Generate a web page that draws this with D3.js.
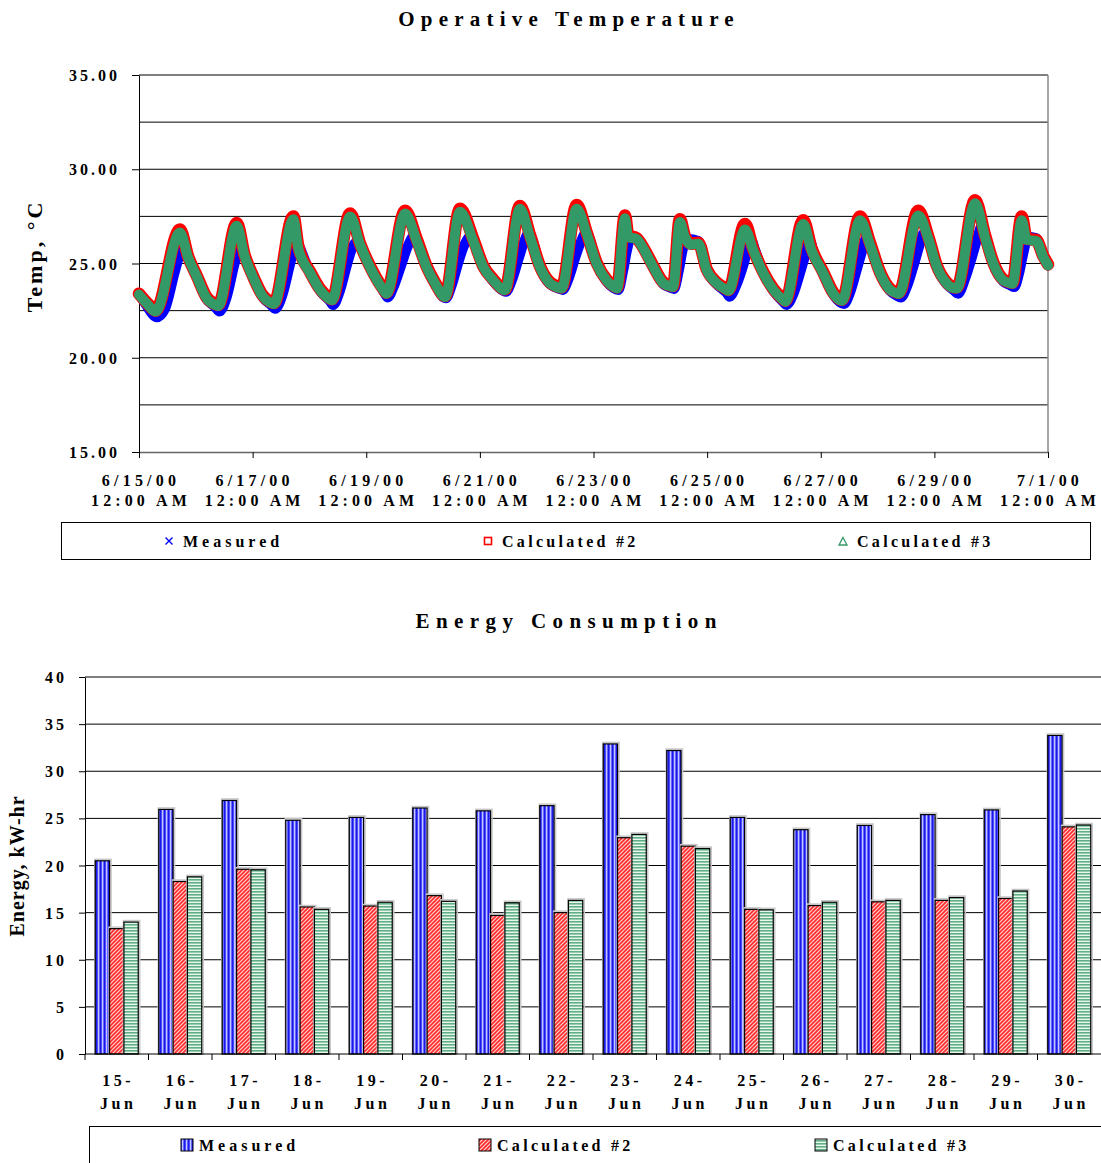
<!DOCTYPE html>
<html><head><meta charset="utf-8">
<script src="https://cdn.jsdelivr.net/npm/d3@7"></script>
<style>
body{margin:0;background:#fff;}
svg{display:block;font-family:"Liberation Serif","Times New Roman",serif;font-weight:bold;}
</style></head><body>
<svg id="c" width="1101" height="1163"></svg>
<script>
// ---------------- Operative temperature data (hours from 6/15/00 12:00 AM) ----------------
const measuredHours = [0,3,7.5,11,15,17.5,19,20.8,24.4,28.6,32.1,
 34,37,40,42,43.3,44.6,48.1,52.3,55.8,
 57.5,60.5,63.5,65.5,66.8,67.8,72.3,76.5,80.7,
 82,85,88,90,91.5,93.4,97.6,103.2,
 105,108,111,113.5,116.5,117.8,121.5,125.7,128.6,
 129.6,132,135,137.5,139.8,141.2,145.5,149.7,153.9,
 155,157.5,160.5,162.8,164.5,165.8,169.4,173.6,177.8,
 179,181.5,184.5,186.8,188.6,189.8,193.3,197.5,200.4,
 202.5,204.5,206.3,208,210.5,213,217.3,221.5,225,
 226,228,229.8,231.8,236.3,239.8,244,248.2,
 249.5,252.5,255.5,257.5,258.8,260.3,263.7,268,272.2,
 273.5,276.5,279.5,281.8,283.3,284.8,289,293.3,296.1,
 297.8,300.5,303.5,305.8,307.3,308.8,313,317.3,320.1,
 321.8,324.5,327.5,329.8,331.5,333.5,337,341.2,344,
 346,349,352,354.3,356,357.8,360.9,365.1,368,
 369.8,371.8,373.5,375.5,379,382,384];
const measuredTemps = [23.4,22.8,22.15,22.6,24.5,25.6,26.0,25.3,24.3,23.1,22.7,
 22.45,23.2,24.8,25.8,26.1,25.4,24.3,23.2,22.8,
 22.6,23.3,24.8,25.8,26.2,25.9,24.5,23.55,23.0,
 22.8,23.6,25.0,25.8,26.1,25.95,24.8,23.55,
 23.2,23.9,25.0,25.9,26.5,26.2,24.8,23.75,23.2,
 23.15,23.8,25.1,26.0,26.4,26.2,24.8,24.05,23.55,
 23.5,24.1,25.3,26.2,26.6,26.4,24.8,23.9,23.65,
 23.6,24.2,25.4,26.2,26.6,26.5,25.0,24.05,23.7,
 23.6,24.6,25.8,26.4,26.35,25.85,24.8,23.9,23.7,
 23.65,24.6,25.8,26.3,26.2,24.65,23.9,23.45,
 23.24,23.9,25.0,25.9,26.2,25.7,24.5,23.55,22.95,
 22.8,23.4,24.6,25.6,26.25,25.7,24.45,23.35,22.95,
 22.85,23.5,24.8,25.8,26.4,26.0,24.5,23.55,23.3,
 23.2,23.8,25.0,26.0,26.6,26.3,24.8,23.9,23.6,
 23.4,24.2,25.4,26.4,27.0,26.4,24.95,24.05,23.85,
 23.75,24.5,25.5,26.4,26.35,25.4,24.9];

const calcHours = [0,3.5,7,17.3,20.8,24.4,28.6,32.1,
 33.5,41.3,44.6,48.1,52.3,55.8,
 57,65.2,67.3,72.3,76.5,80.7,
 81.5,89.2,93.4,97.6,103.2,
 104.5,112.4,117.3,121.5,125.7,128.6,
 129.3,135.6,141.2,145.5,149.7,153.9,
 154.6,160.9,165.2,169.4,173.6,177.8,
 178.5,184.9,189.1,193.3,197.5,200.4,
 202,205.3,206.7,210.2,213,217.3,221.5,225,
 225.6,228.5,230.6,233,236.3,239.8,244,248.2,
 249,256,259.5,263.7,268,272.2,
 273,280.6,284.1,289,293.3,296.1,
 297,304.6,308.8,313,317.3,320.1,
 321,329.2,333.5,337,341.2,344,
 345.5,353.2,357.4,360.9,365.1,368,
 369,372.9,375,379,382,384];
const calc2Temps = [23.4,22.9,22.5,26.8,25.35,24.35,23.2,22.85,
 22.8,27.15,25.45,24.35,23.3,22.95,
 22.9,27.5,25.9,24.55,23.65,23.15,
 23.1,27.65,26.05,24.85,23.65,
 23.45,27.8,26.3,24.85,23.85,23.3,
 23.27,27.9,26.3,24.85,24.15,23.65,
 23.63,28.05,26.5,24.85,24.0,23.75,
 23.73,28.1,26.65,25.05,24.15,23.82,
 23.73,27.55,26.5,26.35,25.85,24.85,24.0,23.82,
 23.8,27.35,26.45,26.05,26.1,24.7,24.0,23.65,
 23.6,27.1,25.75,24.55,23.65,23.1,
 23.02,27.3,25.8,24.55,23.45,23.1,
 23.08,27.5,26.1,24.55,23.65,23.47,
 23.45,27.8,26.4,24.9,24.0,23.75,
 23.73,28.35,26.5,25.05,24.15,24.0,
 23.98,27.5,26.3,26.25,25.4,24.95];
const calc3Temps = [23.35,22.85,22.45,26.65,25.3,24.3,23.15,22.8,
 22.75,27.0,25.4,24.3,23.25,22.9,
 22.85,27.35,25.8,24.5,23.6,23.1,
 23.05,27.5,26.0,24.8,23.6,
 23.4,27.65,26.2,24.8,23.8,23.25,
 23.22,27.75,26.2,24.8,24.1,23.6,
 23.58,27.9,26.4,24.8,23.95,23.7,
 23.68,27.9,26.6,25.0,24.1,23.77,
 23.68,27.4,26.4,26.3,25.8,24.8,23.95,23.77,
 23.75,27.2,26.4,26.0,26.05,24.65,23.95,23.6,
 23.55,26.8,25.7,24.5,23.6,23.05,
 22.97,27.1,25.7,24.5,23.4,23.05,
 23.03,27.3,26.0,24.5,23.6,23.42,
 23.4,27.55,26.3,24.85,23.95,23.7,
 23.68,28.2,26.4,25.0,24.1,23.95,
 23.93,27.3,26.25,26.2,25.35,24.9];

const tempTicks = [15,20,25,30,35];
const tempGrid = [17.5,20,22.5,25,27.5,30,32.5,35];
const dateTickDays = [0,2,4,6,8,10,12,14,16];
const dateTickLabels = ["6/15/00","6/17/00","6/19/00","6/21/00","6/23/00","6/25/00","6/27/00","6/29/00","7/1/00"];
const timeTickLabel = "12:00 AM";
const tempSeriesNames = ["Measured","Calculated #2","Calculated #3"];

// ---------------- Energy consumption data ----------------
const days = ["15-Jun","16-Jun","17-Jun","18-Jun","19-Jun","20-Jun","21-Jun","22-Jun","23-Jun","24-Jun","25-Jun","26-Jun","27-Jun","28-Jun","29-Jun","30-Jun"];
const energyMeasured = [20.5,25.95,26.9,24.8,25.1,26.1,25.8,26.35,32.9,32.2,25.1,23.8,24.25,25.4,25.9,33.8];
const energyCalc2 =    [13.3,18.3,19.6,15.6,15.7,16.8,14.7,15.0,22.95,22.05,15.35,15.75,16.15,16.3,16.5,24.1];
const energyCalc3 =    [14.0,18.8,19.55,15.35,16.1,16.2,16.05,16.3,23.3,21.8,15.3,16.1,16.3,16.6,17.3,24.3];
const energyTicks = [0,5,10,15,20,25,30,35,40];
const energySeriesNames = ["Measured","Calculated #2","Calculated #3"];

// ---------------- drawing ----------------
const svg = d3.select("#c");
const FS = 16, LS = 3;

// patterns
const defs = svg.append("defs");
const pm = defs.append("pattern").attr("id","pMeas").attr("patternUnits","userSpaceOnUse").attr("width",4).attr("height",4);
pm.append("rect").attr("width",4).attr("height",4).attr("fill","#4d4dff");
pm.append("rect").attr("x",0).attr("width",1).attr("height",4).attr("fill","#1a1ae6");
pm.append("rect").attr("x",2).attr("width",1.2).attr("height",4).attr("fill","#c4c4ff");
const pc2 = defs.append("pattern").attr("id","pCalc2").attr("patternUnits","userSpaceOnUse").attr("width",4).attr("height",4);
pc2.append("rect").attr("width",4).attr("height",4).attr("fill","#ffd0d0");
pc2.append("path").attr("d","M0,4 L4,0 M-1,1 L1,-1 M3,5 L5,3").attr("stroke","#ff2a2a").attr("stroke-width",1.6);
const pc3 = defs.append("pattern").attr("id","pCalc3").attr("patternUnits","userSpaceOnUse").attr("width",4).attr("height",3);
pc3.append("rect").attr("width",4).attr("height",3).attr("fill","#eaf5ee");
pc3.append("rect").attr("y",0).attr("width",4).attr("height",1.6).attr("fill","#5fb086");

function txt(g, x, y, s, opts={}) {
  return g.append("text").attr("x",x).attr("y",y).text(s)
    .attr("font-size",opts.fs||FS).attr("letter-spacing",opts.ls===undefined?LS:opts.ls)
    .attr("text-anchor",opts.anchor||"middle").attr("fill","#000");
}

// ===== Top chart =====
const topG = svg.append("g");
const t0 = Date.UTC(2000,5,15);
const toDate = h => new Date(t0 + h*3600000);
const xT = d3.scaleUtc().domain([toDate(0), toDate(384)]).range([139,1048]);
const yT = d3.scaleLinear().domain([15,35]).range([452,75]);

txt(topG, 566+3.1, 26, "Operative Temperature", {fs:21, ls:6.2});

topG.selectAll("line.grid").data(tempGrid).join("line").attr("class","grid")
  .attr("x1",139).attr("x2",1048).attr("y1",d=>yT(d)).attr("y2",d=>yT(d))
  .attr("stroke","#000").attr("stroke-width",1);
topG.append("line").attr("x1",1048).attr("x2",1048).attr("y1",75).attr("y2",452).attr("stroke","#888").attr("stroke-width",1.5);

const yAxT = topG.append("g").attr("transform","translate(139,0)")
  .call(d3.axisLeft(yT).tickValues(tempTicks).tickSize(7).tickSizeOuter(0).tickFormat(""));
yAxT.select(".domain").attr("stroke","#000");
topG.selectAll("text.ytl").data(tempTicks).join("text").attr("class","ytl")
  .attr("x",120).attr("y",d=>yT(d)+6).text(d=>d.toFixed(2))
  .attr("font-size",FS).attr("letter-spacing",LS).attr("text-anchor","end");

const dateTicks = dateTickDays.map(d=>toDate(d*24));
const xAxT = topG.append("g").attr("transform","translate(0,452)")
  .call(d3.axisBottom(xT).tickValues(dateTicks).tickSize(6).tickSizeOuter(0).tickFormat(""));
xAxT.select(".domain").attr("stroke","#666").attr("stroke-width",1.6);
dateTicks.forEach((d,i)=>{
  txt(topG, xT(d)+2, 486, dateTickLabels[i], {ls:4.2});
  txt(topG, xT(d)+2, 506, timeTickLabel, {ls:4.1});
});

topG.append("text").attr("transform","translate(42,256) rotate(-90)").attr("text-anchor","middle")
  .attr("font-size",22).attr("letter-spacing",3).text("Temp, °C");

const lineM = d3.line().x((d,i)=>xT(toDate(measuredHours[i]))).y(d=>yT(d)).curve(d3.curveMonotoneX);
const lineC = d3.line().x((d,i)=>xT(toDate(calcHours[i]))).y(d=>yT(d)).curve(d3.curveMonotoneX);
const series = topG.append("g").attr("fill","none").attr("stroke-linejoin","round").attr("stroke-linecap","round");
series.append("path").attr("d",lineM(measuredTemps)).attr("stroke","#0000ff").attr("stroke-width",10);
series.append("path").attr("d",lineC(calc2Temps)).attr("stroke","#ff0000").attr("stroke-width",12.5);
series.append("path").attr("d",lineC(calc3Temps)).attr("stroke","#339966").attr("stroke-width",10);

// top legend
const lg1 = topG.append("g");
lg1.append("rect").attr("x",61.5).attr("y",522.5).attr("width",1029).attr("height",37).attr("fill","none").attr("stroke","#000");
const lx1 = [169,488,843];
lg1.append("path").attr("d",`M${lx1[0]-3.5},${537.5}l7,7M${lx1[0]+3.5},${537.5}l-7,7`).attr("stroke","#0000ff").attr("stroke-width",1.4);
lg1.append("rect").attr("x",lx1[1]-3.5).attr("y",537.5).attr("width",7).attr("height",7).attr("fill","none").attr("stroke","#ff0000").attr("stroke-width",1.6);
lg1.append("path").attr("d",`M${lx1[2]},${537.5}L${lx1[2]+4},${545}L${lx1[2]-4},${545}Z`).attr("fill","none").attr("stroke","#339966").attr("stroke-width",1.3);
tempSeriesNames.forEach((n,i)=>txt(lg1, lx1[i]+14, 547, n, {anchor:"start", ls: i===0?4:3.3}));

// ===== Bottom chart =====
const botG = svg.append("g");
const x0 = d3.scaleBand().domain(days).range([85,1101]).paddingInner(0.323).paddingOuter(0.1615);
const x1 = d3.scaleBand().domain([0,1,2]).range([0,x0.bandwidth()]);
const yE = d3.scaleLinear().domain([0,40]).range([1054,677]);

txt(botG, 566+3.2, 628, "Energy Consumption", {fs:21, ls:6.4});

botG.selectAll("line.grid").data(energyTicks.slice(1)).join("line").attr("class","grid")
  .attr("x1",85).attr("x2",1101).attr("y1",d=>yE(d)).attr("y2",d=>yE(d))
  .attr("stroke","#000").attr("stroke-width",1);

const yAxE = botG.append("g").attr("transform","translate(85,0)")
  .call(d3.axisLeft(yE).tickValues(energyTicks).tickSize(6).tickSizeOuter(0).tickFormat(""));
yAxE.select(".domain").attr("stroke","#000");
botG.selectAll("text.ytl").data(energyTicks).join("text").attr("class","ytl")
  .attr("x",67).attr("y",d=>yE(d)+6).text(d=>d)
  .attr("font-size",FS).attr("letter-spacing",LS).attr("text-anchor","end");

botG.append("text").attr("transform","translate(24,866) rotate(-90)").attr("text-anchor","middle")
  .attr("font-size",20).attr("letter-spacing",1).text("Energy, kW-hr");

const energySeries = [energyMeasured, energyCalc2, energyCalc3];
const fills = ["url(#pMeas)","url(#pCalc2)","url(#pCalc3)"];
const bars = botG.append("g");
days.forEach((d,i)=>{
  energySeries.forEach((s,k)=>{
    const bx = x0(d)+x1(k), by = yE(s[i]), bw = x1.bandwidth(), bh = yE(0)-yE(s[i]);
    bars.append("rect").attr("x",bx-0.5).attr("y",by-1.5).attr("width",bw+2).attr("height",bh+1.5)
      .attr("fill","none").attr("stroke","#c8c8c8").attr("stroke-width",1.5);
    bars.append("rect").attr("x",bx).attr("y",by).attr("width",bw).attr("height",bh)
      .attr("fill",fills[k]).attr("stroke","#000").attr("stroke-width",1.2);
  });
});

botG.append("line").attr("x1",85).attr("x2",1101).attr("y1",1054).attr("y2",1054).attr("stroke","#000").attr("stroke-width",1.2);
const step = x0.step();
days.forEach((d,i)=>{
  const bx = 85 + i*step;
  botG.append("line").attr("x1",bx).attr("x2",bx).attr("y1",1054).attr("y2",1060).attr("stroke","#000");
  const c = x0(d)+x0.bandwidth()/2 + 1.5;
  const parts = d.split("-");
  txt(botG, c, 1086, parts[0]+"-", {ls:3.5});
  txt(botG, c, 1109, parts[1], {ls:3.5});
});

// bottom legend
const lg2 = botG.append("g");
lg2.append("rect").attr("x",89.5).attr("y",1126.5).attr("width",1030).attr("height",60).attr("fill","none").attr("stroke","#000");
const sx = [181,479,815];
energySeriesNames.forEach((n,i)=>{
  lg2.append("rect").attr("x",sx[i]).attr("y",1139).attr("width",12).attr("height",12).attr("fill",fills[i]).attr("stroke","#000").attr("stroke-width",1);
  txt(lg2, sx[i]+18, 1151, n, {anchor:"start", ls: i===0?4:3.3});
});
</script>
</body></html>
